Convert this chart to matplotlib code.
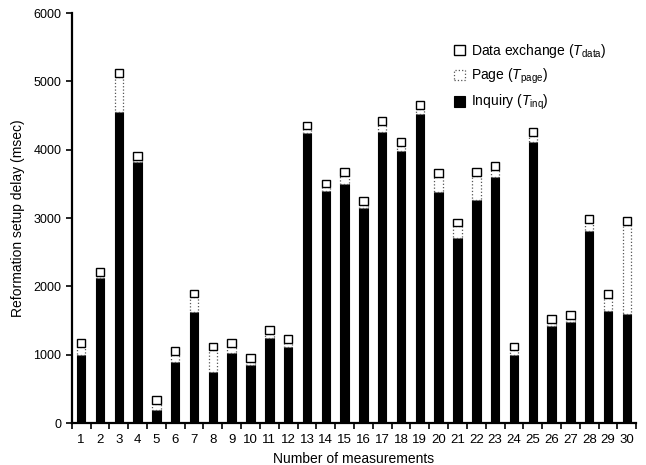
import numpy as np
import matplotlib
matplotlib.use("Agg")
import matplotlib.pyplot as plt

plt.rcParams['font.family'] = ['Liberation Sans', 'DejaVu Sans']
plt.rcParams['mathtext.fontset'] = 'custom'
plt.rcParams['mathtext.rm'] = 'Liberation Sans'
plt.rcParams['mathtext.it'] = 'Liberation Sans:italic'

# ---- data (msec) ----
measurements = list(range(1, 31))
inquiry = [1000, 2130, 4550, 3815, 190, 900, 1620, 750, 1030, 850,
           1245, 1110, 4250, 3400, 3505, 3145, 4258, 3975, 4525, 3382,
           2710, 3260, 3605, 1000, 4112, 1420, 1478, 2818, 1645, 1591]
total = [1235, 2270, 5180, 3966, 394, 1110, 1955, 1178, 1226, 1005,
         1418, 1288, 4412, 3562, 3730, 3304, 4485, 4168, 4714, 3720,
         2993, 3735, 3815, 1175, 4314, 1580, 1638, 3050, 1945, 3015]
data_exchange = [115, 110, 120, 110, 110, 110, 115, 110, 115, 110,
                 115, 110, 115, 110, 115, 110, 120, 110, 115, 115,
                 115, 115, 110, 110, 115, 110, 110, 115, 115, 110]

inquiry = np.array(inquiry)
data_exchange = np.array(data_exchange)
page = np.array(total) - inquiry - data_exchange

fig = plt.figure(figsize=(6.46, 4.65), dpi=100)
ax = fig.add_axes([0.111, 0.090, 0.874, 0.882])

x = np.array(measurements)
w = 0.45
b_inq = ax.bar(x, inquiry, w, color='black', edgecolor='black', linewidth=0.8,
               label=r'Inquiry ($T_{\mathrm{inq}}$)')
b_page = ax.bar(x, page, w, bottom=inquiry, color='white', edgecolor='#555555',
                linestyle=':', linewidth=0.9, label=r'Page ($T_{\mathrm{page}}$)')
b_data = ax.bar(x, data_exchange, w, bottom=inquiry + page, color='white',
                edgecolor='black', linewidth=1.0,
                label=r'Data exchange ($T_{\mathrm{data}}$)')

ax.set_xlim(0.5, 30.5)
ax.set_ylim(0, 6000)
ax.set_yticks(range(0, 6001, 1000))
ax.set_xticks(x)
ax.set_xticklabels([str(m) for m in measurements])
ax.tick_params(axis='x', length=0, pad=8, labelsize=9.5)
ax.set_xticks(np.arange(0.5, 31, 1), minor=True)
ax.tick_params(axis='x', which='minor', length=4, width=1.2, direction='out')
ax.tick_params(axis='y', length=4, width=1.2, labelsize=9)

for s in ['top', 'right']:
    ax.spines[s].set_visible(False)
ax.spines['left'].set_linewidth(1.6)
ax.spines['bottom'].set_linewidth(1.6)

ax.set_xlabel('Number of measurements', fontsize=10, labelpad=4)
ax.set_ylabel('Reformation setup delay (msec)', fontsize=10, labelpad=6)

ax.legend(handles=[b_data, b_page, b_inq], loc='upper left',
          bbox_to_anchor=(0.655, 0.96), frameon=False, fontsize=10,
          handlelength=0.8, handleheight=0.8, handletextpad=0.4,
          labelspacing=0.5)

fig.savefig('out.png', dpi=100)
